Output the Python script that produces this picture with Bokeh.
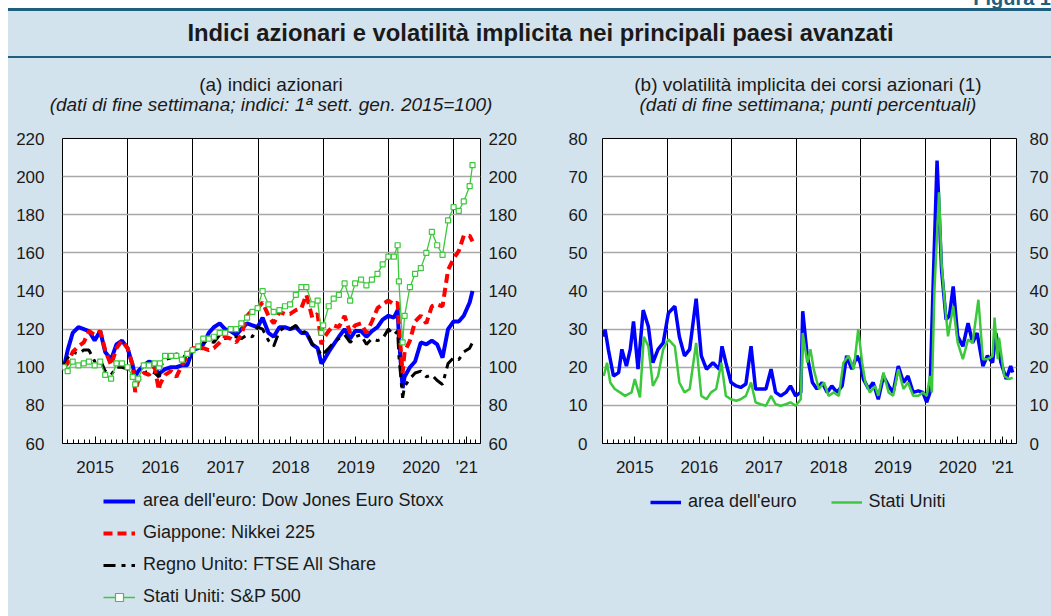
import numpy as np
import pandas as pd
from bokeh.plotting import figure
from bokeh.models import Range1d, LinearAxis, FixedTicker, Legend, LegendItem, Div
from bokeh.layouts import column, row
from bokeh.embed import file_html
from bokeh.resources import INLINE

BG = "#d3e3ee"
TEAL = "#1f5f7f"
FONT = "Liberation Sans"
TXT = "#1a1a1a"

# ---------------- data: panel (a) stock indices (1st week Jan 2015 = 100) ----------------
dates_a = [
    "2015-01-09", "2015-01-30", "2015-02-27", "2015-03-31", "2015-04-30", "2015-05-29", "2015-06-30",
    "2015-07-31", "2015-08-28", "2015-09-30", "2015-10-30", "2015-11-30", "2015-12-31",
    "2016-01-29", "2016-02-12", "2016-02-29", "2016-03-31", "2016-04-29", "2016-05-31", "2016-06-24",
    "2016-06-30", "2016-07-29", "2016-08-31", "2016-09-30", "2016-10-31", "2016-11-30", "2016-12-30",
    "2017-01-31", "2017-02-28", "2017-03-31", "2017-04-28", "2017-05-31", "2017-06-30", "2017-07-31",
    "2017-08-31", "2017-09-29", "2017-10-31", "2017-11-30", "2017-12-29",
    "2018-01-26", "2018-02-28", "2018-03-29", "2018-04-30", "2018-05-31", "2018-06-29", "2018-07-31",
    "2018-08-31", "2018-09-28", "2018-10-31", "2018-11-30", "2018-12-21", "2018-12-31",
    "2019-01-31", "2019-02-28", "2019-03-29", "2019-04-30", "2019-05-31", "2019-06-28", "2019-07-31",
    "2019-08-30", "2019-09-30", "2019-10-31", "2019-11-29", "2019-12-31",
    "2020-01-31", "2020-02-21", "2020-02-28", "2020-03-20", "2020-03-31", "2020-04-30", "2020-05-29",
    "2020-06-30", "2020-07-31", "2020-08-31", "2020-09-30", "2020-10-30", "2020-11-30", "2020-12-31",
    "2021-01-29", "2021-02-26", "2021-03-31", "2021-04-16",
]
euro_stoxx = [
    100, 109, 118, 121, 120, 119, 114, 119, 108, 104, 112, 114, 110,
    101, 95, 98, 101, 103, 102, 95, 97, 99, 100, 100, 101, 101, 109,
    110, 112, 118, 121, 123, 120, 119, 117, 120, 123, 122, 121,
    126, 118, 116, 121, 121, 120, 121, 118, 118, 112, 110, 102, 103,
    108, 112, 116, 120, 115, 119, 119, 116, 119, 121, 125, 127,
    126, 130, 116, 89, 95, 100, 103, 113, 112, 114, 112, 105, 120, 124,
    124, 127, 134, 140,
]
nikkei = [
    100, 102, 108, 111, 113, 119, 117, 119, 109, 101, 110, 114, 110,
    101, 87, 93, 97, 96, 100, 88, 91, 96, 98, 95, 101, 106, 110,
    110, 110, 109, 110, 113, 116, 115, 113, 117, 127, 130, 131,
    134, 127, 123, 129, 128, 128, 130, 131, 138, 126, 128, 112, 115,
    119, 122, 121, 127, 118, 122, 123, 118, 124, 131, 133, 135,
    133, 134, 122, 97, 108, 114, 124, 127, 123, 132, 133, 132, 151, 157,
    161, 169, 169, 166,
]
ftse = [
    100, 105, 108, 107, 109, 109, 103, 104, 98, 96, 100, 100, 99,
    95, 90, 95, 97, 98, 97, 95, 100, 104, 105, 107, 106, 105, 110,
    110, 113, 114, 113, 117, 115, 116, 116, 115, 117, 116, 121,
    120, 114, 111, 119, 121, 120, 122, 118, 119, 112, 110, 106, 107,
    110, 113, 115, 117, 113, 116, 117, 112, 115, 114, 115, 120,
    117, 119, 106, 84, 90, 94, 97, 98, 95, 96, 93, 91, 102, 105,
    104, 108, 110, 113,
]
sp500 = [
    100, 98, 103, 101, 102, 103, 101, 103, 96, 94, 102, 102, 100,
    95, 91, 94, 101, 101, 102, 100, 102, 106, 106, 106, 104, 107, 109,
    111, 115, 115, 116, 118, 118, 120, 120, 123, 126, 129, 131,
    140, 133, 129, 130, 132, 133, 138, 142, 142, 133, 135, 118, 122,
    132, 136, 138, 144, 135, 144, 146, 143, 146, 149, 154, 158,
    158, 164, 145, 113, 127, 142, 149, 152, 160, 171, 164, 159, 177, 184,
    182, 187, 195, 206,
]

# ---------------- data: panel (b) implied volatility (percentage points) ----------------
vol_eu_t = [
    2015.02, 2015.04, 2015.09, 2015.17, 2015.25, 2015.30, 2015.37, 2015.43, 2015.48, 2015.55, 2015.63,
    2015.71, 2015.78, 2015.86, 2015.94,
    2016.02, 2016.12, 2016.19, 2016.27, 2016.35, 2016.45, 2016.53, 2016.61, 2016.71, 2016.81, 2016.85,
    2016.91, 2016.99,
    2017.07, 2017.14, 2017.22, 2017.30, 2017.37, 2017.45, 2017.53, 2017.61, 2017.68, 2017.76, 2017.84,
    2017.91, 2017.99,
    2018.07, 2018.10, 2018.17, 2018.25, 2018.32, 2018.40, 2018.48, 2018.55, 2018.63, 2018.71, 2018.78,
    2018.86, 2018.94, 2018.99,
    2019.04, 2019.12, 2019.19, 2019.27, 2019.35, 2019.43, 2019.50, 2019.58, 2019.66, 2019.73, 2019.81,
    2019.89, 2019.96,
    2020.02, 2020.07, 2020.12, 2020.18, 2020.25, 2020.32, 2020.37, 2020.43, 2020.50, 2020.58, 2020.66,
    2020.73, 2020.80, 2020.89, 2020.96,
    2021.04, 2021.09, 2021.17, 2021.25, 2021.32, 2021.35,
]
vol_eu = [
    28, 29.9, 24.7, 17.7, 18.6, 24.7, 20.3, 24.7, 32, 19.5, 35, 30.7, 21.2, 24.7, 26.4,
    34.2, 36, 28, 23, 24.7, 38, 23, 19.5, 21.2, 19.5, 25.5, 21.2, 16,
    15.1, 14.7, 15.6, 25.5, 14.3, 14.3, 14.3, 19.5, 13.4, 12.5, 13.4, 15.1, 12.5,
    13.4, 34.7, 23, 16, 14.3, 16, 13.4, 15.1, 13.4, 15.1, 23, 19.5, 23, 21.2,
    16.9, 14.3, 16, 11.6, 17.7, 15.1, 13.4, 20.3, 16, 17.7, 13.4, 13.8, 13.4,
    10.8, 13.4, 42, 74.2, 45.5, 32.5, 33.4, 41.2, 28.1, 25.5, 31.6, 26.4, 29, 20.3, 23,
    21.2, 29, 21.2, 16.9, 20.3, 18.6,
]
vol_us_t = [
    2015.02, 2015.07, 2015.12, 2015.19, 2015.27, 2015.35, 2015.45, 2015.50, 2015.58, 2015.64, 2015.71,
    2015.78, 2015.86, 2015.94,
    2016.02, 2016.12, 2016.19, 2016.27, 2016.35, 2016.45, 2016.53, 2016.61, 2016.68, 2016.76, 2016.84,
    2016.91, 2016.99,
    2017.07, 2017.14, 2017.22, 2017.30, 2017.37, 2017.45, 2017.53, 2017.61, 2017.68, 2017.76, 2017.84,
    2017.91, 2017.99,
    2018.07, 2018.10, 2018.17, 2018.22, 2018.27, 2018.35, 2018.43, 2018.50, 2018.58, 2018.66, 2018.73,
    2018.81, 2018.89, 2018.96,
    2019.02, 2019.07, 2019.14, 2019.22, 2019.27, 2019.35, 2019.43, 2019.50, 2019.58, 2019.66, 2019.73,
    2019.81, 2019.89, 2019.96,
    2020.02, 2020.07, 2020.10, 2020.14, 2020.21, 2020.25, 2020.30, 2020.35, 2020.43, 2020.50, 2020.58,
    2020.66, 2020.73, 2020.82, 2020.89, 2020.96,
    2021.04, 2021.07, 2021.12, 2021.14, 2021.22, 2021.30, 2021.35,
]
vol_us = [
    17.7, 21.2, 16, 14.3, 13.4, 12.5, 13.4, 16.9, 12.1, 28, 25.5, 15.1, 17.7, 24.7,
    27.3, 25.5, 16, 13.4, 14.3, 26.4, 12.5, 11.6, 13.4, 14.3, 21.2, 12.5, 11.6,
    11.2, 11.6, 12.5, 16, 10.8, 10.3, 9.9, 12.5, 10.3, 9.9, 10.3, 10.8, 9.9,
    11.6, 29, 21.2, 24.7, 19.5, 14.3, 16, 12.5, 13.4, 12.5, 21.2, 23, 19.5, 30,
    21.2, 16, 13.4, 15.1, 12.5, 18.6, 13.4, 12.5, 19.5, 14.3, 16, 12.5, 12.5, 13.4,
    12.5, 17.7, 13.4, 40.3, 65.9, 47.2, 36.8, 28.1, 36, 26.4, 22.1, 27.3, 26.4, 37.7, 22.1, 22.1,
    22.9, 33, 22.1, 27.7, 17.7, 16.9, 17.3,
]

# ---------------- axis labels ----------------
year_mid = [2015.5, 2016.5, 2017.5, 2018.5, 2019.5, 2020.5, 2021.2]
year_lab = ["2015", "2016", "2017", "2018", "2019", "2020", "'21"]
year_bounds = [2016, 2017, 2018, 2019, 2020, 2021]
month_ticks = [2015 + k / 12 for k in range(1, 77)]
yticks_a = [60, 80, 100, 120, 140, 160, 180, 200, 220]
yticks_b = [0, 10, 20, 30, 40, 50, 60, 70, 80]
X0, X1 = 2015.0, 2021.41

# line styles
EU_STYLE = dict(line_color="#0000ff", line_width=4)
JP_STYLE = dict(line_color="#ff0000", line_width=4, line_dash="9 5")
UK_STYLE = dict(line_color="black", line_width=3, line_dash="12 6 4 6")
US_STYLE = dict(line_color="#3cc83c", line_width=1.3)
US_MARK = dict(marker="square", size=5, line_color="#3cc83c", fill_color="white", line_width=1.2)
VEU_STYLE = dict(line_color="#0000ff", line_width=3.5)
VUS_STYLE = dict(line_color="#3cc83c", line_width=2.5)


def dec_year(dates):
    d = pd.to_datetime(pd.Series(dates))
    days = np.where(d.dt.is_leap_year, 366.0, 365.0)
    return (d.dt.year + (d.dt.dayofyear - 1) / days).to_numpy()


def make_fig(width, bl, br, yr, yticks, ls_left, ls_right):
    p = figure(width=width, height=357, x_range=Range1d(X0, X1), y_range=Range1d(*yr),
               output_backend="svg", toolbar_location=None,
               min_border_left=bl, min_border_right=br, min_border_top=10, min_border_bottom=42,
               background_fill_color="white", border_fill_color=BG,
               outline_line_color="black", outline_line_width=1)
    ax = p.xaxis[0]
    ax.ticker = FixedTicker(ticks=year_mid, minor_ticks=month_ticks)
    ax.major_label_overrides = dict(zip(year_mid, year_lab))
    ax.major_tick_in = 7
    ax.major_tick_out = 0
    ax.minor_tick_in = 4
    ax.minor_tick_out = 0
    ax.major_tick_line_color = "black"
    ax.minor_tick_line_color = "black"
    ax.axis_line_color = "black"
    ax.major_label_standoff = 14
    ax.major_label_text_font = FONT
    ax.major_label_text_font_size = "17px"
    ax.major_label_text_color = TXT

    yl = p.yaxis[0]
    yr_ax = LinearAxis()
    p.add_layout(yr_ax, "right")
    for a, st in ((yl, ls_left), (yr_ax, ls_right)):
        a.ticker = FixedTicker(ticks=yticks)
        a.major_tick_in = 0
        a.major_tick_out = 0
        a.minor_tick_line_color = None
        a.axis_line_color = None
        a.major_label_standoff = st
        a.major_label_text_font = FONT
        a.major_label_text_font_size = "17px"
        a.major_label_text_color = TXT

    p.xgrid.ticker = FixedTicker(ticks=year_bounds)
    p.xgrid.grid_line_color = "black"
    p.xgrid.grid_line_width = 1
    p.ygrid.ticker = FixedTicker(ticks=yticks)
    p.ygrid.grid_line_color = "#a8a8a8"
    p.ygrid.grid_line_width = 1.5
    return p


# Legend panels: a plain area whose key swatches are drawn by Bokeh's Legend
# (the swatch renderers carry points outside the visible range, so only the keys show).
OFF_X, OFF_Y = [5, 6], [5, 6]


def legend_fig(width):
    f = figure(width=width, height=131, x_range=Range1d(0, 1), y_range=Range1d(0, 1),
               output_backend="svg", toolbar_location=None, x_axis_location=None,
               y_axis_location=None, min_border=0, background_fill_color=None,
               border_fill_color=BG, outline_line_color=None)
    f.grid.visible = False
    return f


def legend_kw():
    return dict(background_fill_alpha=0, border_line_alpha=0, padding=0, margin=0,
                glyph_height=20, label_height=20, label_text_font=FONT,
                label_text_font_size="18px", label_text_color=TXT)


def subtitle_div(t1, t2, width, pad_left):
    return Div(text=f"<div>{t1}</div><div><i>{t2}</i></div>", width=width, height=70, margin=0,
               styles={"background-color": BG, "font-family": FONT, "font-size": "19px",
                       "line-height": "20px", "color": TXT, "text-align": "center",
                       "padding-top": "17px", "padding-left": f"{pad_left}px",
                       "box-sizing": "border-box"})


# ---------------- panel (a) ----------------
ta = dec_year(dates_a)
p1 = make_fig(517, 54, 45, (60, 220), yticks_a, 18, 8)
p1.line(ta, euro_stoxx, **EU_STYLE)
p1.line(ta, ftse, **UK_STYLE)
p1.line(ta, nikkei, **JP_STYLE)
p1.line(ta, sp500, **US_STYLE)
p1.scatter(ta, sp500, **US_MARK)

la = legend_fig(517)
k_eu = la.line(OFF_X, OFF_Y, **EU_STYLE)
k_jp = la.line(OFF_X, OFF_Y, **JP_STYLE)
k_uk = la.line(OFF_X, OFF_Y, **UK_STYLE)
k_us = la.line(OFF_X, OFF_Y, **US_STYLE)
k_usm = la.scatter(OFF_X, OFF_Y, **US_MARK)
la.add_layout(Legend(items=[
    LegendItem(label="area dell'euro: Dow Jones Euro Stoxx", renderers=[k_eu]),
    LegendItem(label="Giappone: Nikkei 225", renderers=[k_jp]),
    LegendItem(label="Regno Unito: FTSE All Share", renderers=[k_uk]),
    LegendItem(label="Stati Uniti: S&P 500", renderers=[k_us, k_usm]),
], location=(41, 9), orientation="vertical", spacing=11, glyph_width=32, label_standoff=8,
    **legend_kw()))

# ---------------- panel (b) ----------------
p2 = make_fig(526, 77, 32, (0, 80), yticks_b, 15, 13)
p2.line(vol_eu_t, vol_eu, **VEU_STYLE)
p2.line(vol_us_t, vol_us, **VUS_STYLE)

lb = legend_fig(526)
k_veu = lb.line(OFF_X, OFF_Y, **VEU_STYLE)
k_vus = lb.line(OFF_X, OFF_Y, **VUS_STYLE)
lb.add_layout(Legend(items=[LegendItem(label="area dell'euro", renderers=[k_veu]),
                            LegendItem(label="Stati Uniti", renderers=[k_vus])],
                     location=(48, 104), orientation="horizontal", spacing=34, glyph_width=31,
                     label_standoff=7, **legend_kw()))

sub_a = subtitle_div("(a) indici azionari",
                     "(dati di fine settimana; indici: 1ª sett. gen. 2015=100)", 517, 9)
sub_b = subtitle_div("(b) volatilità implicita dei corsi azionari (1)",
                     "(dati di fine settimana; punti percentuali)", 526, 40)

fig_div = Div(text='<div style="position:relative;top:-6px;">Figura 1</div>', width=1043, height=8,
              margin=0,
              styles={"font-family": FONT, "font-size": "20px", "font-weight": "bold",
                      "color": TEAL, "text-align": "right", "line-height": "8px",
                      "overflow": "visible"})
title_div = Div(
    text="Indici azionari e volatilità implicita nei principali paesi avanzati",
    width=1043, height=50, margin=0,
    styles={"background-color": BG, "border-top": f"3px solid {TEAL}",
            "border-bottom": f"2px solid {TEAL}", "box-sizing": "border-box",
            "font-family": FONT, "font-size": "23.8px", "font-weight": "bold", "color": TXT,
            "text-align": "center", "line-height": "44px", "padding-left": "22px"})

bgs = {"background-color": BG}
layout = column(fig_div, title_div,
                row(column(sub_a, p1, la, spacing=0, styles=bgs),
                    column(sub_b, p2, lb, spacing=0, styles=bgs), spacing=0, styles=bgs),
                spacing=0, margin=(0, 0, 0, 8))
open("out.html", "w").write(file_html(layout, INLINE))
